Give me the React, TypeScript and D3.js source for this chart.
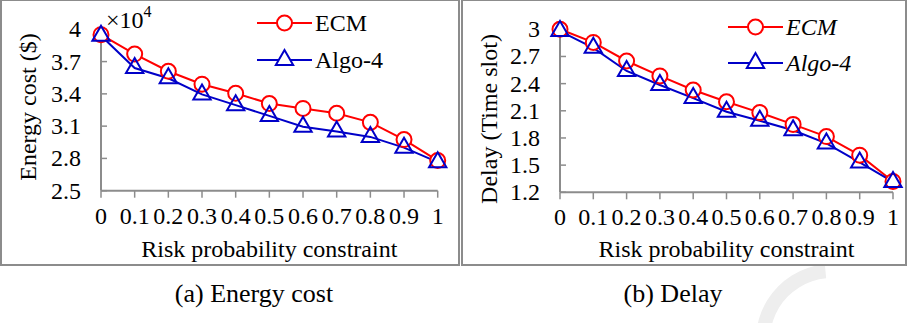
import React from 'react';
import * as d3 from 'd3';

// risk probability constraint (x axis)
const riskLevels = [0, 0.1, 0.2, 0.3, 0.4, 0.5, 0.6, 0.7, 0.8, 0.9, 1];
const xTickLabels = ['0', '0.1', '0.2', '0.3', '0.4', '0.5', '0.6', '0.7', '0.8', '0.9', '1'];

// (a) energy cost, x10^4 $
const energyEcm = [3.95, 3.77, 3.61, 3.49, 3.405, 3.31, 3.265, 3.22, 3.135, 2.975, 2.78];
const energyAlgo4 = [3.94, 3.64, 3.545, 3.395, 3.295, 3.195, 3.095, 3.05, 3.0, 2.9, 2.765];
const energyTicks = [2.5, 2.8, 3.1, 3.4, 3.7, 4];

// (b) delay, time slots
const delayEcm = [3.0, 2.855, 2.65, 2.485, 2.33, 2.2, 2.08, 1.95, 1.815, 1.61, 1.32];
const delayAlgo4 = [2.98, 2.795, 2.54, 2.385, 2.24, 2.09, 1.99, 1.885, 1.74, 1.53, 1.315];
const delayTicks = [1.2, 1.5, 1.8, 2.1, 2.4, 2.7, 3];

const seriesNames = ['ECM', 'Algo-4'];

const FONT = '"Liberation Serif", "DejaVu Serif", "Times New Roman", serif';
const RED = '#ff0000';
const BLUE = '#0000c8';
const AXIS = '#8c8c8c';

const triangle = d3.symbol().type(d3.symbolTriangle).size(130);

function Panel(props: any) {
  const { frame, plot, ticks, ecm, algo, yTitle, titleX, legend, italic, exponent, caption } = props;

  const x = d3.scaleLinear().domain([0, 1]).range([plot.left, plot.right]);
  const y = d3
    .scaleLinear()
    .domain([ticks[0], ticks[ticks.length - 1]])
    .range([plot.bottom, plot.top]);

  const line = d3
    .line<number>()
    .x((d, i) => x(riskLevels[i]))
    .y((d) => y(d));

  const txt = { fontFamily: FONT };

  return (
    <g fill="#000">
      <rect x={frame.x} y={frame.y} width={frame.w} height={frame.h} fill="none" stroke={AXIS} strokeWidth={2} />

      {/* axes */}
      <line x1={plot.left} x2={plot.left} y1={plot.top} y2={plot.bottom} stroke={AXIS} strokeWidth={2} />
      <line x1={plot.left} x2={plot.right} y1={plot.bottom} y2={plot.bottom} stroke={AXIS} strokeWidth={2} />
      {ticks.map((t: number) => (
        <g key={'y' + t}>
          <line x1={plot.left} x2={plot.left + 6} y1={y(t)} y2={y(t)} stroke={AXIS} strokeWidth={1.5} />
          <text x={plot.left - 20} y={y(t) + 8} fontSize={24} textAnchor="end" style={txt}>
            {String(t)}
          </text>
        </g>
      ))}
      {riskLevels.map((r, i) => (
        <g key={'x' + r}>
          <line x1={x(r)} x2={x(r)} y1={plot.bottom} y2={plot.bottom + 7} stroke={AXIS} strokeWidth={1.5} />
          <text x={x(r)} y={plot.bottom + 33} fontSize={24} textAnchor="middle" style={txt}>
            {xTickLabels[i]}
          </text>
        </g>
      ))}

      <text x={(plot.left + plot.right) / 2} y={257} fontSize={24} textAnchor="middle" style={txt}>
        Risk probability constraint
      </text>
      <text
        transform={`translate(${titleX.x},${titleX.y}) rotate(-90)`}
        fontSize={24}
        textAnchor="middle"
        style={txt}
      >
        {yTitle}
      </text>

      {exponent && (
        <text x={plot.left + 5} y={28} fontSize={24} style={txt}>
          ×10
          <tspan dy={-11} fontSize={16}>
            4
          </tspan>
        </text>
      )}

      {/* series */}
      <path d={line(ecm) || ''} fill="none" stroke={RED} strokeWidth={2} />
      <path d={line(algo) || ''} fill="none" stroke={BLUE} strokeWidth={2} />
      {ecm.map((v: number, i: number) => (
        <circle key={'c' + i} cx={x(riskLevels[i])} cy={y(v)} r={7.5} fill="#fff" stroke={RED} strokeWidth={2} />
      ))}
      {algo.map((v: number, i: number) => (
        <path
          key={'t' + i}
          d={triangle() || ''}
          transform={`translate(${x(riskLevels[i])},${y(v)})`}
          fill="none"
          stroke={BLUE}
          strokeWidth={2}
        />
      ))}

      {/* legend */}
      <line x1={legend.x} x2={legend.x + 55} y1={legend.y1} y2={legend.y1} stroke={RED} strokeWidth={2} />
      <circle cx={legend.x + 27.5} cy={legend.y1} r={7.5} fill="#fff" stroke={RED} strokeWidth={2} />
      <text x={legend.x + 58} y={legend.y1 + 8} fontSize={24} fontStyle={italic ? 'italic' : 'normal'} style={txt}>
        {seriesNames[0]}
      </text>
      <line x1={legend.x} x2={legend.x + 55} y1={legend.y2} y2={legend.y2} stroke={BLUE} strokeWidth={2} />
      <path
        d={triangle() || ''}
        transform={`translate(${legend.x + 27.5},${legend.y2})`}
        fill="#fff"
        stroke={BLUE}
        strokeWidth={2}
      />
      <text x={legend.x + 58} y={legend.y2 + 8} fontSize={24} fontStyle={italic ? 'italic' : 'normal'} style={txt}>
        {seriesNames[1]}
      </text>

      <text x={caption.x} y={302} fontSize={26} textAnchor="middle" style={txt}>
        {caption.text}
      </text>
    </g>
  );
}

export default function App() {
  const watermark = d3.arc()({
    innerRadius: 62,
    outerRadius: 76,
    startAngle: -Math.PI * 0.62,
    endAngle: -Math.PI * 0.03,
  } as any);

  return (
    <svg width={907} height={323} style={{ position: 'absolute', left: 0, top: 0, background: '#fff' }}>
      <path d={watermark || ''} transform="translate(832,340)" fill="#eeeeee" />
      <Panel
        frame={{ x: 1, y: 0, w: 458, h: 265 }}
        plot={{ left: 101, right: 437.7, top: 29.3, bottom: 190.7 }}
        ticks={energyTicks}
        ecm={energyEcm}
        algo={energyAlgo4}
        yTitle="Energy cost ($)"
        titleX={{ x: 36, y: 107 }}
        legend={{ x: 257, y1: 23, y2: 60 }}
        italic={false}
        exponent={true}
        caption={{ x: 254, text: '(a) Energy cost' }}
      />
      <Panel
        frame={{ x: 462, y: 0, w: 444, h: 265 }}
        plot={{ left: 560, right: 893, top: 29.3, bottom: 192.3 }}
        ticks={delayTicks}
        ecm={delayEcm}
        algo={delayAlgo4}
        yTitle="Delay (Time slot)"
        titleX={{ x: 497, y: 119 }}
        legend={{ x: 728, y1: 27, y2: 63 }}
        italic={true}
        exponent={false}
        caption={{ x: 673, text: '(b) Delay' }}
      />
    </svg>
  );
}
